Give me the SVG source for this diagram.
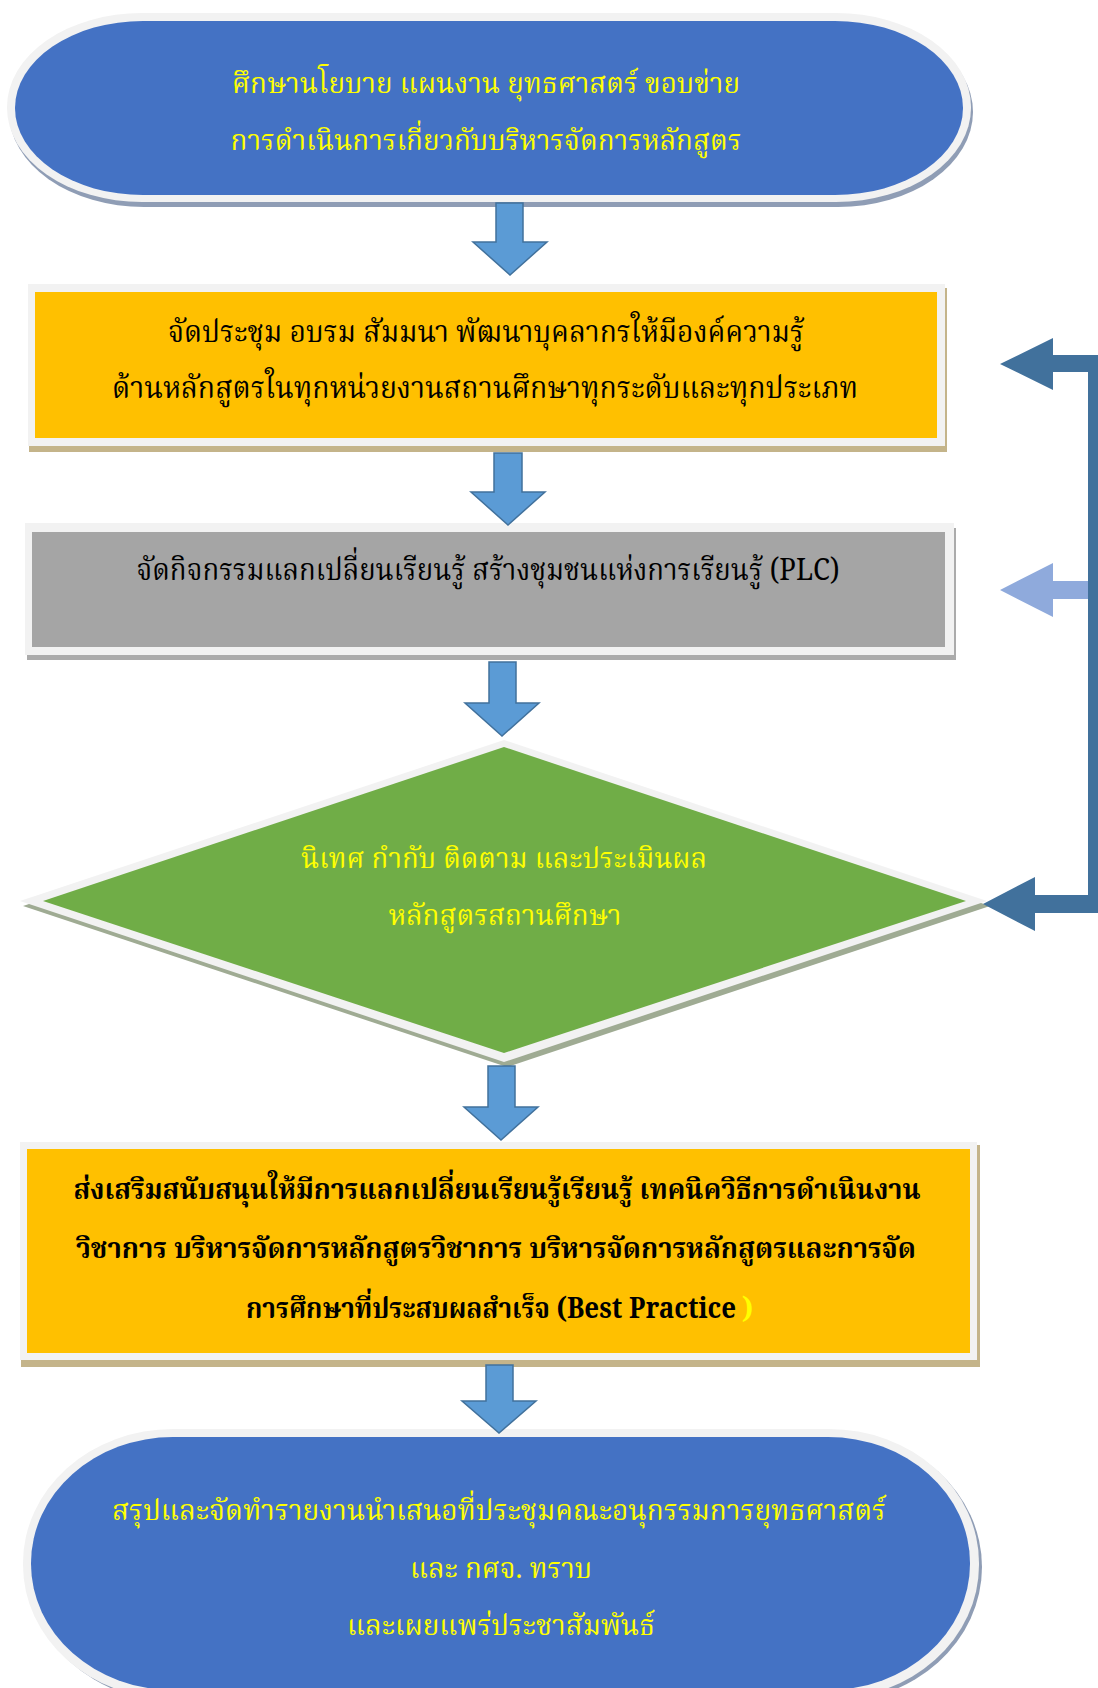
<svg xmlns="http://www.w3.org/2000/svg" width="1098" height="1688" viewBox="0 0 1098 1688">
<style>
.t{font-family:"Noto Serif Thai","Noto Sans Thai","Liberation Serif",serif;text-anchor:middle}
.s{text-anchor:start}
.y{fill:#ffff00}
.k{fill:#000000}
.b{font-weight:bold}
.wb{fill:#f2f2f2}
.bs{fill:#8f9db5}
.ts{fill:#c4b48a}
.dn{fill:#5b9bd5;stroke:#41719c;stroke-width:1.5;stroke-linejoin:miter}
</style>
<rect width="1098" height="1688" fill="#ffffff"/>
<g id="node-study">
<rect class="bs" x="9" y="17" width="964" height="190" rx="135" ry="95"/>
<rect class="wb" x="7" y="13" width="964" height="189" rx="135" ry="94"/>
<rect x="15" y="21" width="948" height="174" rx="128" ry="87" fill="#4472c4"/>
<text class="t y" x="486" y="93" font-size="28" textLength="508" lengthAdjust="spacingAndGlyphs">ศึกษานโยบาย แผนงาน ยุทธศาสตร์ ขอบข่าย</text>
<text class="t y" x="486" y="150" font-size="28" textLength="511" lengthAdjust="spacingAndGlyphs">การดำเนินการเกี่ยวกับบริหารจัดการหลักสูตร</text>
</g>
<g id="node-training">
<rect class="ts" x="29" y="288" width="918" height="164"/>
<rect class="wb" x="28" y="284" width="917" height="162"/>
<rect x="35" y="292" width="902" height="146" fill="#ffc000"/>
<text class="t k" x="486" y="342" font-size="31" textLength="636" lengthAdjust="spacingAndGlyphs">จัดประชุม อบรม สัมมนา พัฒนาบุคลากรให้มีองค์ความรู้</text>
<text class="t k" x="485" y="398" font-size="31" textLength="746" lengthAdjust="spacingAndGlyphs">ด้านหลักสูตรในทุกหน่วยงานสถานศึกษาทุกระดับและทุกประเภท</text>
</g>
<g id="node-plc">
<rect x="27" y="528" width="929" height="132" fill="#ababab"/>
<rect class="wb" x="25" y="523" width="929" height="132"/>
<rect x="32" y="532" width="913" height="115" fill="#a5a5a5"/>
<text class="t k" x="488" y="580" font-size="31" textLength="703" lengthAdjust="spacingAndGlyphs">จัดกิจกรรมแลกเปลี่ยนเรียนรู้ สร้างชุมชนแห่งการเรียนรู้ (PLC)</text>
</g>
<g id="node-supervise">
<polygon points="507,745 990,906 507,1067 23,906" fill="#9fab93"/>
<polygon class="wb" points="504,740 987,901 504,1062 20,901"/>
<polygon points="504,747 966,901 504,1053 43,901" fill="#70ad47"/>
<text class="t y" x="504" y="868" font-size="28" textLength="406" lengthAdjust="spacingAndGlyphs">นิเทศ กำกับ ติดตาม และประเมินผล</text>
<text class="t y" x="505" y="925" font-size="28" textLength="233" lengthAdjust="spacingAndGlyphs">หลักสูตรสถานศึกษา</text>
</g>
<g id="node-best-practice">
<rect class="ts" x="21" y="1145" width="959" height="222"/>
<rect class="wb" x="20" y="1142" width="957" height="218"/>
<rect x="27" y="1149" width="943" height="204" fill="#ffc000"/>
<text class="t k b" x="497" y="1199" font-size="28" textLength="847" lengthAdjust="spacingAndGlyphs">ส่งเสริมสนับสนุนให้มีการแลกเปลี่ยนเรียนรู้เรียนรู้ เทคนิควิธีการดำเนินงาน</text>
<text class="t k b" x="496" y="1258" font-size="28" textLength="840" lengthAdjust="spacingAndGlyphs">วิชาการ บริหารจัดการหลักสูตรวิชาการ บริหารจัดการหลักสูตรและการจัด</text>
<text class="t s k b" x="246" y="1318" font-size="28" textLength="490" lengthAdjust="spacingAndGlyphs">การศึกษาที่ประสบผลสำเร็จ  (Best Practice</text>
<text class="t s y b" x="742" y="1318" font-size="28">)</text>
</g>
<g id="node-report">
<rect class="bs" x="27" y="1432" width="955" height="270" rx="150" ry="135"/>
<rect class="wb" x="23" y="1429" width="956" height="270" rx="150" ry="134"/>
<rect x="31" y="1437" width="939" height="253" rx="142" ry="126" fill="#4472c4"/>
<text class="t y" x="499" y="1520" font-size="28" textLength="774" lengthAdjust="spacingAndGlyphs">สรุปและจัดทำรายงานนำเสนอที่ประชุมคณะอนุกรรมการยุทธศาสตร์</text>
<text class="t y" x="501" y="1578" font-size="28" textLength="182" lengthAdjust="spacingAndGlyphs">และ กศจ. ทราบ</text>
<text class="t y" x="501" y="1635" font-size="28" textLength="308" lengthAdjust="spacingAndGlyphs">และเผยแพร่ประชาสัมพันธ์</text>
</g>
<g id="connectors">
<path class="dn" d="M496,203 H523 V242 H547 L510,275 L473,242 H496 Z"/>
<path class="dn" d="M494,453 H522 V492 H545 L508,525 L471,492 H494 Z"/>
<path class="dn" d="M489,662 H516 V703 H539 L502,736 L465,703 H489 Z"/>
<path class="dn" d="M488,1066 H515 V1107 H538 L501,1140 L464,1107 H488 Z"/>
<path class="dn" d="M486,1365 H513 V1401 H536 L499,1433 L462,1401 H486 Z"/>
<path d="M1000,364 L1053,338 V355 H1098 V913 H1035 V931 L983,904 L1035,877 V895 H1088 V372 H1053 V390 Z" fill="#41719c"/>
<path d="M1000,590 L1053,563 V581 H1088 V599 H1053 V617 Z" fill="#8faadc"/>
</g>
</svg>
